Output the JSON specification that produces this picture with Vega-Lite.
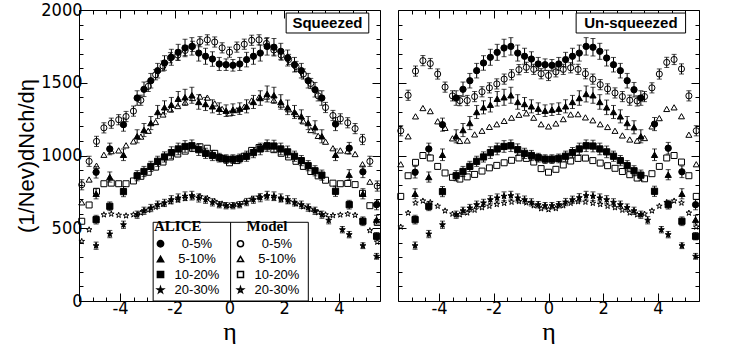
{
"$schema":"https://vega.github.io/schema/vega-lite/v6.json",
"background":"white",
"padding":{"left":15,"top":0,"right":5,"bottom":0},
"config":{"view":{"stroke":"black","strokeWidth":1},
 "axis":{"domain":false,"grid":false,"tickColor":"black","tickWidth":1,"labelColor":"black","titleColor":"black","labelFlush":false,"labelOverlap":false,"labelFont":"Liberation Sans Narrow, DejaVu Sans Condensed, Liberation Sans","labelFontSize":18,"titleFontWeight":"normal"}},
"datasets":{
"alice":[
{"s":"ALICE 0-5%","x":-4.875,"y":885,"e":40},{"s":"ALICE 0-5%","x":-4.375,"y":1045,"e":40},{"s":"ALICE 0-5%","x":-3.875,"y":1212,"e":45},{"s":"ALICE 0-5%","x":-3.375,"y":1395,"e":50},{"s":"ALICE 0-5%","x":-3.125,"y":1455,"e":50},{"s":"ALICE 0-5%","x":-2.875,"y":1514,"e":50},{"s":"ALICE 0-5%","x":-2.625,"y":1583,"e":50},{"s":"ALICE 0-5%","x":-2.375,"y":1636,"e":50},{"s":"ALICE 0-5%","x":-2.125,"y":1675,"e":55},{"s":"ALICE 0-5%","x":-1.875,"y":1709,"e":55},{"s":"ALICE 0-5%","x":-1.625,"y":1739,"e":60},{"s":"ALICE 0-5%","x":-1.375,"y":1750,"e":60},{"s":"ALICE 0-5%","x":-1.125,"y":1704,"e":55},{"s":"ALICE 0-5%","x":-0.875,"y":1682,"e":55},{"s":"ALICE 0-5%","x":-0.625,"y":1663,"e":50},{"s":"ALICE 0-5%","x":-0.375,"y":1629,"e":45},{"s":"ALICE 0-5%","x":-0.125,"y":1624,"e":40},{"s":"ALICE 0-5%","x":0.125,"y":1620,"e":40},{"s":"ALICE 0-5%","x":0.375,"y":1629,"e":45},{"s":"ALICE 0-5%","x":0.625,"y":1659,"e":50},{"s":"ALICE 0-5%","x":0.875,"y":1682,"e":55},{"s":"ALICE 0-5%","x":1.125,"y":1704,"e":55},{"s":"ALICE 0-5%","x":1.375,"y":1750,"e":60},{"s":"ALICE 0-5%","x":1.625,"y":1744,"e":60},{"s":"ALICE 0-5%","x":1.875,"y":1716,"e":55},{"s":"ALICE 0-5%","x":2.125,"y":1670,"e":55},{"s":"ALICE 0-5%","x":2.375,"y":1624,"e":50},{"s":"ALICE 0-5%","x":2.625,"y":1583,"e":50},{"s":"ALICE 0-5%","x":2.875,"y":1514,"e":50},{"s":"ALICE 0-5%","x":3.125,"y":1452,"e":50},{"s":"ALICE 0-5%","x":3.375,"y":1395,"e":50},{"s":"ALICE 0-5%","x":3.875,"y":1216,"e":45},{"s":"ALICE 0-5%","x":4.375,"y":1050,"e":40},{"s":"ALICE 0-5%","x":4.875,"y":888,"e":40},{"s":"ALICE 0-5%","x":5.375,"y":662,"e":35},
{"s":"ALICE 5-10%","x":-4.875,"y":737,"e":35},{"s":"ALICE 5-10%","x":-4.375,"y":852,"e":35},{"s":"ALICE 5-10%","x":-3.875,"y":1005,"e":40},{"s":"ALICE 5-10%","x":-3.375,"y":1132,"e":45},{"s":"ALICE 5-10%","x":-3.125,"y":1175,"e":45},{"s":"ALICE 5-10%","x":-2.875,"y":1223,"e":45},{"s":"ALICE 5-10%","x":-2.625,"y":1299,"e":45},{"s":"ALICE 5-10%","x":-2.375,"y":1331,"e":45},{"s":"ALICE 5-10%","x":-2.125,"y":1349,"e":50},{"s":"ALICE 5-10%","x":-1.875,"y":1390,"e":50},{"s":"ALICE 5-10%","x":-1.625,"y":1400,"e":55},{"s":"ALICE 5-10%","x":-1.375,"y":1414,"e":55},{"s":"ALICE 5-10%","x":-1.125,"y":1368,"e":50},{"s":"ALICE 5-10%","x":-0.875,"y":1354,"e":45},{"s":"ALICE 5-10%","x":-0.625,"y":1338,"e":45},{"s":"ALICE 5-10%","x":-0.375,"y":1322,"e":40},{"s":"ALICE 5-10%","x":-0.125,"y":1308,"e":40},{"s":"ALICE 5-10%","x":0.125,"y":1315,"e":40},{"s":"ALICE 5-10%","x":0.375,"y":1322,"e":40},{"s":"ALICE 5-10%","x":0.625,"y":1338,"e":45},{"s":"ALICE 5-10%","x":0.875,"y":1368,"e":45},{"s":"ALICE 5-10%","x":1.125,"y":1395,"e":50},{"s":"ALICE 5-10%","x":1.375,"y":1423,"e":55},{"s":"ALICE 5-10%","x":1.625,"y":1414,"e":55},{"s":"ALICE 5-10%","x":1.875,"y":1368,"e":50},{"s":"ALICE 5-10%","x":2.125,"y":1331,"e":50},{"s":"ALICE 5-10%","x":2.375,"y":1299,"e":45},{"s":"ALICE 5-10%","x":2.625,"y":1269,"e":45},{"s":"ALICE 5-10%","x":2.875,"y":1223,"e":45},{"s":"ALICE 5-10%","x":3.125,"y":1194,"e":45},{"s":"ALICE 5-10%","x":3.375,"y":1132,"e":45},{"s":"ALICE 5-10%","x":3.875,"y":1005,"e":40},{"s":"ALICE 5-10%","x":4.375,"y":868,"e":35},{"s":"ALICE 5-10%","x":4.875,"y":737,"e":35},{"s":"ALICE 5-10%","x":5.375,"y":559,"e":30},
{"s":"ALICE 10-20%","x":-4.875,"y":559,"e":30},{"s":"ALICE 10-20%","x":-4.375,"y":651,"e":30},{"s":"ALICE 10-20%","x":-3.875,"y":752,"e":35},{"s":"ALICE 10-20%","x":-3.375,"y":861,"e":35},{"s":"ALICE 10-20%","x":-3.125,"y":890,"e":35},{"s":"ALICE 10-20%","x":-2.875,"y":925,"e":35},{"s":"ALICE 10-20%","x":-2.625,"y":960,"e":35},{"s":"ALICE 10-20%","x":-2.375,"y":990,"e":35},{"s":"ALICE 10-20%","x":-2.125,"y":1020,"e":40},{"s":"ALICE 10-20%","x":-1.875,"y":1045,"e":40},{"s":"ALICE 10-20%","x":-1.625,"y":1062,"e":40},{"s":"ALICE 10-20%","x":-1.375,"y":1067,"e":40},{"s":"ALICE 10-20%","x":-1.125,"y":1040,"e":40},{"s":"ALICE 10-20%","x":-0.875,"y":1015,"e":35},{"s":"ALICE 10-20%","x":-0.625,"y":1000,"e":35},{"s":"ALICE 10-20%","x":-0.375,"y":985,"e":30},{"s":"ALICE 10-20%","x":-0.125,"y":975,"e":30},{"s":"ALICE 10-20%","x":0.125,"y":975,"e":30},{"s":"ALICE 10-20%","x":0.375,"y":980,"e":30},{"s":"ALICE 10-20%","x":0.625,"y":995,"e":35},{"s":"ALICE 10-20%","x":0.875,"y":1020,"e":35},{"s":"ALICE 10-20%","x":1.125,"y":1045,"e":40},{"s":"ALICE 10-20%","x":1.375,"y":1067,"e":40},{"s":"ALICE 10-20%","x":1.625,"y":1065,"e":40},{"s":"ALICE 10-20%","x":1.875,"y":1045,"e":40},{"s":"ALICE 10-20%","x":2.125,"y":1025,"e":40},{"s":"ALICE 10-20%","x":2.375,"y":995,"e":35},{"s":"ALICE 10-20%","x":2.625,"y":965,"e":35},{"s":"ALICE 10-20%","x":2.875,"y":930,"e":35},{"s":"ALICE 10-20%","x":3.125,"y":895,"e":35},{"s":"ALICE 10-20%","x":3.375,"y":865,"e":35},{"s":"ALICE 10-20%","x":3.875,"y":754,"e":35},{"s":"ALICE 10-20%","x":4.375,"y":662,"e":30},{"s":"ALICE 10-20%","x":4.875,"y":548,"e":30},{"s":"ALICE 10-20%","x":5.375,"y":445,"e":25},
{"s":"ALICE 20-30%","x":-4.875,"y":380,"e":25},{"s":"ALICE 20-30%","x":-4.375,"y":460,"e":25},{"s":"ALICE 20-30%","x":-3.875,"y":524,"e":25},{"s":"ALICE 20-30%","x":-3.375,"y":593,"e":25},{"s":"ALICE 20-30%","x":-3.125,"y":620,"e":25},{"s":"ALICE 20-30%","x":-2.875,"y":639,"e":25},{"s":"ALICE 20-30%","x":-2.625,"y":662,"e":25},{"s":"ALICE 20-30%","x":-2.375,"y":674,"e":25},{"s":"ALICE 20-30%","x":-2.125,"y":696,"e":28},{"s":"ALICE 20-30%","x":-1.875,"y":708,"e":28},{"s":"ALICE 20-30%","x":-1.625,"y":720,"e":30},{"s":"ALICE 20-30%","x":-1.375,"y":724,"e":30},{"s":"ALICE 20-30%","x":-1.125,"y":708,"e":28},{"s":"ALICE 20-30%","x":-0.875,"y":696,"e":25},{"s":"ALICE 20-30%","x":-0.625,"y":678,"e":25},{"s":"ALICE 20-30%","x":-0.375,"y":662,"e":22},{"s":"ALICE 20-30%","x":-0.125,"y":655,"e":22},{"s":"ALICE 20-30%","x":0.125,"y":655,"e":22},{"s":"ALICE 20-30%","x":0.375,"y":662,"e":22},{"s":"ALICE 20-30%","x":0.625,"y":680,"e":25},{"s":"ALICE 20-30%","x":0.875,"y":696,"e":25},{"s":"ALICE 20-30%","x":1.125,"y":710,"e":28},{"s":"ALICE 20-30%","x":1.375,"y":724,"e":30},{"s":"ALICE 20-30%","x":1.625,"y":720,"e":30},{"s":"ALICE 20-30%","x":1.875,"y":708,"e":28},{"s":"ALICE 20-30%","x":2.125,"y":696,"e":28},{"s":"ALICE 20-30%","x":2.375,"y":678,"e":25},{"s":"ALICE 20-30%","x":2.625,"y":662,"e":25},{"s":"ALICE 20-30%","x":2.875,"y":642,"e":25},{"s":"ALICE 20-30%","x":3.125,"y":620,"e":25},{"s":"ALICE 20-30%","x":3.375,"y":593,"e":25},{"s":"ALICE 20-30%","x":3.625,"y":555,"e":25},{"s":"ALICE 20-30%","x":4.125,"y":490,"e":22},{"s":"ALICE 20-30%","x":4.375,"y":456,"e":22},{"s":"ALICE 20-30%","x":4.875,"y":380,"e":20},{"s":"ALICE 20-30%","x":5.375,"y":307,"e":20}
],
"sq":[
{"s":"Model 0-5%","x":-5.4,"y":799,"e":35},{"s":"Model 0-5%","x":-5.13,"y":960,"e":35},{"s":"Model 0-5%","x":-4.86,"y":1097,"e":35},{"s":"Model 0-5%","x":-4.59,"y":1190,"e":35},{"s":"Model 0-5%","x":-4.32,"y":1222,"e":35},{"s":"Model 0-5%","x":-4.05,"y":1246,"e":35},{"s":"Model 0-5%","x":-3.78,"y":1268,"e":35},{"s":"Model 0-5%","x":-3.51,"y":1305,"e":35},{"s":"Model 0-5%","x":-3.24,"y":1380,"e":35},{"s":"Model 0-5%","x":-2.97,"y":1475,"e":35},{"s":"Model 0-5%","x":-2.7,"y":1555,"e":35},{"s":"Model 0-5%","x":-2.43,"y":1615,"e":35},{"s":"Model 0-5%","x":-2.16,"y":1672,"e":35},{"s":"Model 0-5%","x":-1.89,"y":1690,"e":35},{"s":"Model 0-5%","x":-1.62,"y":1722,"e":35},{"s":"Model 0-5%","x":-1.35,"y":1750,"e":35},{"s":"Model 0-5%","x":-1.08,"y":1782,"e":35},{"s":"Model 0-5%","x":-0.81,"y":1795,"e":35},{"s":"Model 0-5%","x":-0.54,"y":1780,"e":35},{"s":"Model 0-5%","x":-0.27,"y":1740,"e":35},{"s":"Model 0-5%","x":0,"y":1710,"e":35},{"s":"Model 0-5%","x":0.27,"y":1745,"e":35},{"s":"Model 0-5%","x":0.54,"y":1765,"e":35},{"s":"Model 0-5%","x":0.81,"y":1792,"e":35},{"s":"Model 0-5%","x":1.08,"y":1795,"e":35},{"s":"Model 0-5%","x":1.35,"y":1770,"e":35},{"s":"Model 0-5%","x":1.62,"y":1725,"e":35},{"s":"Model 0-5%","x":1.89,"y":1690,"e":35},{"s":"Model 0-5%","x":2.16,"y":1660,"e":35},{"s":"Model 0-5%","x":2.43,"y":1612,"e":35},{"s":"Model 0-5%","x":2.7,"y":1560,"e":35},{"s":"Model 0-5%","x":2.97,"y":1495,"e":35},{"s":"Model 0-5%","x":3.24,"y":1410,"e":35},{"s":"Model 0-5%","x":3.51,"y":1330,"e":35},{"s":"Model 0-5%","x":3.78,"y":1275,"e":35},{"s":"Model 0-5%","x":4.05,"y":1252,"e":35},{"s":"Model 0-5%","x":4.32,"y":1225,"e":35},{"s":"Model 0-5%","x":4.59,"y":1185,"e":35},{"s":"Model 0-5%","x":4.86,"y":1110,"e":35},{"s":"Model 0-5%","x":5.13,"y":960,"e":35},{"s":"Model 0-5%","x":5.4,"y":790,"e":35},
{"s":"Model 5-10%","x":-5.4,"y":678},{"s":"Model 5-10%","x":-5.13,"y":835},{"s":"Model 5-10%","x":-4.86,"y":930},{"s":"Model 5-10%","x":-4.59,"y":1005},{"s":"Model 5-10%","x":-4.32,"y":1030},{"s":"Model 5-10%","x":-4.05,"y":1035},{"s":"Model 5-10%","x":-3.78,"y":1070},{"s":"Model 5-10%","x":-3.51,"y":1097},{"s":"Model 5-10%","x":-3.24,"y":1130},{"s":"Model 5-10%","x":-2.97,"y":1170},{"s":"Model 5-10%","x":-2.7,"y":1230},{"s":"Model 5-10%","x":-2.43,"y":1282},{"s":"Model 5-10%","x":-2.16,"y":1317},{"s":"Model 5-10%","x":-1.89,"y":1340},{"s":"Model 5-10%","x":-1.62,"y":1365},{"s":"Model 5-10%","x":-1.35,"y":1395},{"s":"Model 5-10%","x":-1.08,"y":1405},{"s":"Model 5-10%","x":-0.81,"y":1398},{"s":"Model 5-10%","x":-0.54,"y":1358},{"s":"Model 5-10%","x":-0.27,"y":1320},{"s":"Model 5-10%","x":0,"y":1290},{"s":"Model 5-10%","x":0.27,"y":1312},{"s":"Model 5-10%","x":0.54,"y":1335},{"s":"Model 5-10%","x":0.81,"y":1378},{"s":"Model 5-10%","x":1.08,"y":1400},{"s":"Model 5-10%","x":1.35,"y":1405},{"s":"Model 5-10%","x":1.62,"y":1380},{"s":"Model 5-10%","x":1.89,"y":1350},{"s":"Model 5-10%","x":2.16,"y":1318},{"s":"Model 5-10%","x":2.43,"y":1285},{"s":"Model 5-10%","x":2.7,"y":1235},{"s":"Model 5-10%","x":2.97,"y":1175},{"s":"Model 5-10%","x":3.24,"y":1135},{"s":"Model 5-10%","x":3.51,"y":1095},{"s":"Model 5-10%","x":3.78,"y":1050},{"s":"Model 5-10%","x":4.05,"y":1035},{"s":"Model 5-10%","x":4.32,"y":1030},{"s":"Model 5-10%","x":4.59,"y":1010},{"s":"Model 5-10%","x":4.86,"y":940},{"s":"Model 5-10%","x":5.13,"y":820},{"s":"Model 5-10%","x":5.4,"y":680},
{"s":"Model 10-20%","x":-5.4,"y":548},{"s":"Model 10-20%","x":-5.13,"y":660},{"s":"Model 10-20%","x":-4.86,"y":754},{"s":"Model 10-20%","x":-4.59,"y":806},{"s":"Model 10-20%","x":-4.32,"y":810},{"s":"Model 10-20%","x":-4.05,"y":806},{"s":"Model 10-20%","x":-3.78,"y":806},{"s":"Model 10-20%","x":-3.51,"y":825},{"s":"Model 10-20%","x":-3.24,"y":857},{"s":"Model 10-20%","x":-2.97,"y":885},{"s":"Model 10-20%","x":-2.7,"y":920},{"s":"Model 10-20%","x":-2.43,"y":955},{"s":"Model 10-20%","x":-2.16,"y":990},{"s":"Model 10-20%","x":-1.89,"y":1010},{"s":"Model 10-20%","x":-1.62,"y":1030},{"s":"Model 10-20%","x":-1.35,"y":1050},{"s":"Model 10-20%","x":-1.08,"y":1060},{"s":"Model 10-20%","x":-0.81,"y":1050},{"s":"Model 10-20%","x":-0.54,"y":1015},{"s":"Model 10-20%","x":-0.27,"y":980},{"s":"Model 10-20%","x":0,"y":950},{"s":"Model 10-20%","x":0.27,"y":965},{"s":"Model 10-20%","x":0.54,"y":995},{"s":"Model 10-20%","x":0.81,"y":1035},{"s":"Model 10-20%","x":1.08,"y":1055},{"s":"Model 10-20%","x":1.35,"y":1060},{"s":"Model 10-20%","x":1.62,"y":1040},{"s":"Model 10-20%","x":1.89,"y":1015},{"s":"Model 10-20%","x":2.16,"y":990},{"s":"Model 10-20%","x":2.43,"y":960},{"s":"Model 10-20%","x":2.7,"y":925},{"s":"Model 10-20%","x":2.97,"y":890},{"s":"Model 10-20%","x":3.24,"y":860},{"s":"Model 10-20%","x":3.51,"y":830},{"s":"Model 10-20%","x":3.78,"y":810},{"s":"Model 10-20%","x":4.05,"y":806},{"s":"Model 10-20%","x":4.32,"y":808},{"s":"Model 10-20%","x":4.59,"y":800},{"s":"Model 10-20%","x":4.86,"y":740},{"s":"Model 10-20%","x":5.13,"y":655},{"s":"Model 10-20%","x":5.4,"y":540},
{"s":"Model 20-30%","x":-5.4,"y":410},{"s":"Model 20-30%","x":-5.13,"y":490},{"s":"Model 20-30%","x":-4.86,"y":555},{"s":"Model 20-30%","x":-4.59,"y":593},{"s":"Model 20-30%","x":-4.32,"y":598},{"s":"Model 20-30%","x":-4.05,"y":590},{"s":"Model 20-30%","x":-3.78,"y":586},{"s":"Model 20-30%","x":-3.51,"y":593},{"s":"Model 20-30%","x":-3.24,"y":605},{"s":"Model 20-30%","x":-2.97,"y":625},{"s":"Model 20-30%","x":-2.7,"y":645},{"s":"Model 20-30%","x":-2.43,"y":665},{"s":"Model 20-30%","x":-2.16,"y":682},{"s":"Model 20-30%","x":-1.89,"y":695},{"s":"Model 20-30%","x":-1.62,"y":705},{"s":"Model 20-30%","x":-1.35,"y":715},{"s":"Model 20-30%","x":-1.08,"y":718},{"s":"Model 20-30%","x":-0.81,"y":705},{"s":"Model 20-30%","x":-0.54,"y":685},{"s":"Model 20-30%","x":-0.27,"y":668},{"s":"Model 20-30%","x":0,"y":655},{"s":"Model 20-30%","x":0.27,"y":662},{"s":"Model 20-30%","x":0.54,"y":678},{"s":"Model 20-30%","x":0.81,"y":700},{"s":"Model 20-30%","x":1.08,"y":715},{"s":"Model 20-30%","x":1.35,"y":718},{"s":"Model 20-30%","x":1.62,"y":708},{"s":"Model 20-30%","x":1.89,"y":698},{"s":"Model 20-30%","x":2.16,"y":685},{"s":"Model 20-30%","x":2.43,"y":668},{"s":"Model 20-30%","x":2.7,"y":648},{"s":"Model 20-30%","x":2.97,"y":628},{"s":"Model 20-30%","x":3.24,"y":608},{"s":"Model 20-30%","x":3.51,"y":593},{"s":"Model 20-30%","x":3.78,"y":588},{"s":"Model 20-30%","x":4.05,"y":592},{"s":"Model 20-30%","x":4.32,"y":598},{"s":"Model 20-30%","x":4.59,"y":590},{"s":"Model 20-30%","x":4.86,"y":555},{"s":"Model 20-30%","x":5.13,"y":484},{"s":"Model 20-30%","x":5.4,"y":405}
],
"un":[
{"s":"Model 0-5%","x":-5.4,"y":1170,"e":35},{"s":"Model 0-5%","x":-5.13,"y":1414,"e":35},{"s":"Model 0-5%","x":-4.86,"y":1580,"e":35},{"s":"Model 0-5%","x":-4.59,"y":1652,"e":35},{"s":"Model 0-5%","x":-4.32,"y":1632,"e":35},{"s":"Model 0-5%","x":-4.05,"y":1560,"e":35},{"s":"Model 0-5%","x":-3.78,"y":1470,"e":35},{"s":"Model 0-5%","x":-3.51,"y":1410,"e":35},{"s":"Model 0-5%","x":-3.24,"y":1377,"e":35},{"s":"Model 0-5%","x":-2.97,"y":1378,"e":35},{"s":"Model 0-5%","x":-2.7,"y":1405,"e":35},{"s":"Model 0-5%","x":-2.43,"y":1438,"e":35},{"s":"Model 0-5%","x":-2.16,"y":1465,"e":35},{"s":"Model 0-5%","x":-1.89,"y":1492,"e":35},{"s":"Model 0-5%","x":-1.62,"y":1525,"e":35},{"s":"Model 0-5%","x":-1.35,"y":1555,"e":35},{"s":"Model 0-5%","x":-1.08,"y":1590,"e":35},{"s":"Model 0-5%","x":-0.81,"y":1606,"e":35},{"s":"Model 0-5%","x":-0.54,"y":1592,"e":35},{"s":"Model 0-5%","x":-0.27,"y":1562,"e":35},{"s":"Model 0-5%","x":0,"y":1550,"e":35},{"s":"Model 0-5%","x":0.27,"y":1575,"e":35},{"s":"Model 0-5%","x":0.54,"y":1592,"e":35},{"s":"Model 0-5%","x":0.81,"y":1603,"e":35},{"s":"Model 0-5%","x":1.08,"y":1592,"e":35},{"s":"Model 0-5%","x":1.35,"y":1562,"e":35},{"s":"Model 0-5%","x":1.62,"y":1525,"e":35},{"s":"Model 0-5%","x":1.89,"y":1487,"e":35},{"s":"Model 0-5%","x":2.16,"y":1458,"e":35},{"s":"Model 0-5%","x":2.43,"y":1430,"e":35},{"s":"Model 0-5%","x":2.7,"y":1405,"e":35},{"s":"Model 0-5%","x":2.97,"y":1380,"e":35},{"s":"Model 0-5%","x":3.24,"y":1375,"e":35},{"s":"Model 0-5%","x":3.51,"y":1405,"e":35},{"s":"Model 0-5%","x":3.78,"y":1465,"e":35},{"s":"Model 0-5%","x":4.05,"y":1560,"e":35},{"s":"Model 0-5%","x":4.32,"y":1640,"e":35},{"s":"Model 0-5%","x":4.59,"y":1660,"e":35},{"s":"Model 0-5%","x":4.86,"y":1595,"e":35},{"s":"Model 0-5%","x":5.13,"y":1410,"e":35},{"s":"Model 0-5%","x":5.4,"y":1170,"e":35},
{"s":"Model 5-10%","x":-5.4,"y":940},{"s":"Model 5-10%","x":-5.13,"y":1132},{"s":"Model 5-10%","x":-4.86,"y":1269},{"s":"Model 5-10%","x":-4.59,"y":1326},{"s":"Model 5-10%","x":-4.32,"y":1305},{"s":"Model 5-10%","x":-4.05,"y":1235},{"s":"Model 5-10%","x":-3.78,"y":1190},{"s":"Model 5-10%","x":-3.51,"y":1118},{"s":"Model 5-10%","x":-3.24,"y":1100},{"s":"Model 5-10%","x":-2.97,"y":1103},{"s":"Model 5-10%","x":-2.7,"y":1145},{"s":"Model 5-10%","x":-2.43,"y":1170},{"s":"Model 5-10%","x":-2.16,"y":1197},{"s":"Model 5-10%","x":-1.89,"y":1215},{"s":"Model 5-10%","x":-1.62,"y":1238},{"s":"Model 5-10%","x":-1.35,"y":1260},{"s":"Model 5-10%","x":-1.08,"y":1280},{"s":"Model 5-10%","x":-0.81,"y":1290},{"s":"Model 5-10%","x":-0.54,"y":1260},{"s":"Model 5-10%","x":-0.27,"y":1215},{"s":"Model 5-10%","x":0,"y":1200},{"s":"Model 5-10%","x":0.27,"y":1220},{"s":"Model 5-10%","x":0.54,"y":1250},{"s":"Model 5-10%","x":0.81,"y":1282},{"s":"Model 5-10%","x":1.08,"y":1284},{"s":"Model 5-10%","x":1.35,"y":1262},{"s":"Model 5-10%","x":1.62,"y":1242},{"s":"Model 5-10%","x":1.89,"y":1215},{"s":"Model 5-10%","x":2.16,"y":1196},{"s":"Model 5-10%","x":2.43,"y":1170},{"s":"Model 5-10%","x":2.7,"y":1138},{"s":"Model 5-10%","x":2.97,"y":1110},{"s":"Model 5-10%","x":3.24,"y":1102},{"s":"Model 5-10%","x":3.51,"y":1120},{"s":"Model 5-10%","x":3.78,"y":1200},{"s":"Model 5-10%","x":4.05,"y":1257},{"s":"Model 5-10%","x":4.32,"y":1320},{"s":"Model 5-10%","x":4.59,"y":1331},{"s":"Model 5-10%","x":4.86,"y":1270},{"s":"Model 5-10%","x":5.13,"y":1143},{"s":"Model 5-10%","x":5.4,"y":940},
{"s":"Model 10-20%","x":-5.4,"y":719},{"s":"Model 10-20%","x":-5.13,"y":861},{"s":"Model 10-20%","x":-4.86,"y":953},{"s":"Model 10-20%","x":-4.59,"y":1000},{"s":"Model 10-20%","x":-4.32,"y":983},{"s":"Model 10-20%","x":-4.05,"y":925},{"s":"Model 10-20%","x":-3.78,"y":880},{"s":"Model 10-20%","x":-3.51,"y":850},{"s":"Model 10-20%","x":-3.24,"y":838},{"s":"Model 10-20%","x":-2.97,"y":853},{"s":"Model 10-20%","x":-2.7,"y":870},{"s":"Model 10-20%","x":-2.43,"y":893},{"s":"Model 10-20%","x":-2.16,"y":915},{"s":"Model 10-20%","x":-1.89,"y":932},{"s":"Model 10-20%","x":-1.62,"y":950},{"s":"Model 10-20%","x":-1.35,"y":967},{"s":"Model 10-20%","x":-1.08,"y":983},{"s":"Model 10-20%","x":-0.81,"y":980},{"s":"Model 10-20%","x":-0.54,"y":955},{"s":"Model 10-20%","x":-0.27,"y":910},{"s":"Model 10-20%","x":0,"y":885},{"s":"Model 10-20%","x":0.27,"y":905},{"s":"Model 10-20%","x":0.54,"y":935},{"s":"Model 10-20%","x":0.81,"y":962},{"s":"Model 10-20%","x":1.08,"y":980},{"s":"Model 10-20%","x":1.35,"y":982},{"s":"Model 10-20%","x":1.62,"y":965},{"s":"Model 10-20%","x":1.89,"y":948},{"s":"Model 10-20%","x":2.16,"y":930},{"s":"Model 10-20%","x":2.43,"y":912},{"s":"Model 10-20%","x":2.7,"y":890},{"s":"Model 10-20%","x":2.97,"y":868},{"s":"Model 10-20%","x":3.24,"y":845},{"s":"Model 10-20%","x":3.51,"y":840},{"s":"Model 10-20%","x":3.78,"y":875},{"s":"Model 10-20%","x":4.05,"y":925},{"s":"Model 10-20%","x":4.32,"y":983},{"s":"Model 10-20%","x":4.59,"y":1000},{"s":"Model 10-20%","x":4.86,"y":955},{"s":"Model 10-20%","x":5.13,"y":861},{"s":"Model 10-20%","x":5.4,"y":719},
{"s":"Model 20-30%","x":-5.4,"y":509},{"s":"Model 20-30%","x":-5.13,"y":605},{"s":"Model 20-30%","x":-4.86,"y":674},{"s":"Model 20-30%","x":-4.59,"y":688},{"s":"Model 20-30%","x":-4.32,"y":678},{"s":"Model 20-30%","x":-4.05,"y":652},{"s":"Model 20-30%","x":-3.78,"y":620},{"s":"Model 20-30%","x":-3.51,"y":598},{"s":"Model 20-30%","x":-3.24,"y":593},{"s":"Model 20-30%","x":-2.97,"y":606},{"s":"Model 20-30%","x":-2.7,"y":625},{"s":"Model 20-30%","x":-2.43,"y":642},{"s":"Model 20-30%","x":-2.16,"y":652},{"s":"Model 20-30%","x":-1.89,"y":664},{"s":"Model 20-30%","x":-1.62,"y":672},{"s":"Model 20-30%","x":-1.35,"y":680},{"s":"Model 20-30%","x":-1.08,"y":684},{"s":"Model 20-30%","x":-0.81,"y":675},{"s":"Model 20-30%","x":-0.54,"y":655},{"s":"Model 20-30%","x":-0.27,"y":635},{"s":"Model 20-30%","x":0,"y":628},{"s":"Model 20-30%","x":0.27,"y":636},{"s":"Model 20-30%","x":0.54,"y":655},{"s":"Model 20-30%","x":0.81,"y":672},{"s":"Model 20-30%","x":1.08,"y":683},{"s":"Model 20-30%","x":1.35,"y":680},{"s":"Model 20-30%","x":1.62,"y":672},{"s":"Model 20-30%","x":1.89,"y":664},{"s":"Model 20-30%","x":2.16,"y":652},{"s":"Model 20-30%","x":2.43,"y":642},{"s":"Model 20-30%","x":2.7,"y":625},{"s":"Model 20-30%","x":2.97,"y":606},{"s":"Model 20-30%","x":3.24,"y":593},{"s":"Model 20-30%","x":3.51,"y":598},{"s":"Model 20-30%","x":3.78,"y":620},{"s":"Model 20-30%","x":4.05,"y":652},{"s":"Model 20-30%","x":4.32,"y":678},{"s":"Model 20-30%","x":4.59,"y":688},{"s":"Model 20-30%","x":4.86,"y":674},{"s":"Model 20-30%","x":5.13,"y":605},{"s":"Model 20-30%","x":5.4,"y":509}
]
},
"spacing":18,
"bounds":"flush",
"resolve":{"scale":{"shape":"independent","fill":"independent","size":"independent"}},
"hconcat":[
{
"width":301,"height":291,
"resolve":{"axis":{"x":"independent","y":"independent"}},
"layer":[
{"data":{"name":"sq"},"mark":{"type":"point","opacity":0},"encoding":{
 "x":{"field":"x","type":"quantitative","scale":{"domain":[-5.5,5.5],"nice":false,"zero":false},"axis":{"orient":"bottom","values":[-4,-2,0,2,4],"tickSize":-8,"labelPadding":6,"labelExpr":"'' + datum.value","title":"η","titleFont":"Liberation Serif","titleFontSize":26,"titlePadding":1}},
 "y":{"field":"y","type":"quantitative","scale":{"domain":[0,2000],"nice":false,"zero":false},"axis":{"orient":"left","values":[0,500,1000,1500,2000],"tickSize":-8,"labelPadding":5,"labelExpr":"'' + datum.value","title":"(1/Nev)dNch/dη","titleFont":"Liberation Sans","titleFontSize":22,"titlePadding":2}}}},
{"data":{"name":"sq"},"mark":{"type":"point","opacity":0},"encoding":{
 "x":{"field":"x","type":"quantitative","scale":{"domain":[-5.5,5.5],"nice":false,"zero":false},"axis":{"orient":"bottom","values":[-5,-4.5,-3.5,-3,-2.5,-1.5,-1,-0.5,0.5,1,1.5,2.5,3,3.5,4.5,5],"tickSize":-4,"labels":false,"title":null}},
 "y":{"field":"y","type":"quantitative","scale":{"domain":[0,2000],"nice":false,"zero":false},"axis":{"orient":"left","values":[100,200,300,400,600,700,800,900,1100,1200,1300,1400,1600,1700,1800,1900],"tickSize":-4,"labels":false,"title":null}}}},
{"data":{"name":"sq"},"mark":{"type":"point","opacity":0},"encoding":{
 "x":{"field":"x","type":"quantitative","scale":{"domain":[-5.5,5.5],"nice":false,"zero":false},"axis":{"orient":"top","values":[-4,-2,0,2,4],"tickSize":-8,"labels":false,"title":null}},
 "y":{"field":"y","type":"quantitative","scale":{"domain":[0,2000],"nice":false,"zero":false},"axis":{"orient":"right","values":[0,500,1000,1500,2000],"tickSize":-8,"labels":false,"title":null}}}},
{"data":{"name":"sq"},"mark":{"type":"point","opacity":0},"encoding":{
 "x":{"field":"x","type":"quantitative","scale":{"domain":[-5.5,5.5],"nice":false,"zero":false},"axis":{"orient":"top","values":[-5,-4.5,-3.5,-3,-2.5,-1.5,-1,-0.5,0.5,1,1.5,2.5,3,3.5,4.5,5],"tickSize":-4,"labels":false,"title":null}},
 "y":{"field":"y","type":"quantitative","scale":{"domain":[0,2000],"nice":false,"zero":false},"axis":{"orient":"right","values":[100,200,300,400,600,700,800,900,1100,1200,1300,1400,1600,1700,1800,1900],"tickSize":-4,"labels":false,"title":null}}}},
{"data":{"name":"sq"},"transform":[{"filter":"datum.e > 0"}],"mark":{"type":"errorbar","ticks":true,"color":"black","thickness":1},"encoding":{
 "x":{"field":"x","type":"quantitative","scale":{"domain":[-5.5,5.5],"nice":false,"zero":false},"axis":null},
 "y":{"field":"y","type":"quantitative","scale":{"domain":[0,2000],"nice":false,"zero":false},"axis":null},
 "yError":{"field":"e"}}},
{"data":{"name":"sq"},"mark":{"type":"point","filled":true,"stroke":"black","strokeWidth":1,"opacity":1},"encoding":{
 "x":{"field":"x","type":"quantitative","scale":{"domain":[-5.5,5.5],"nice":false,"zero":false},"axis":null},
 "y":{"field":"y","type":"quantitative","scale":{"domain":[0,2000],"nice":false,"zero":false},"axis":null},
 "shape":{"field":"s","type":"nominal","scale":{"domain":["ALICE 0-5%","ALICE 5-10%","ALICE 10-20%","ALICE 20-30%","Model 0-5%","Model 5-10%","Model 10-20%","Model 20-30%"],"range":["circle","triangle-up","square","M0,-1L0.225,-0.309L0.951,-0.309L0.363,0.118L0.588,0.809L0,0.382L-0.588,0.809L-0.363,0.118L-0.951,-0.309L-0.225,-0.309Z","circle","triangle-up","square","M0,-1L0.225,-0.309L0.951,-0.309L0.363,0.118L0.588,0.809L0,0.382L-0.588,0.809L-0.363,0.118L-0.951,-0.309L-0.225,-0.309Z"]},
  "legend":{"orient":"none","legendX":75,"legendY":209,"columns":2,"title":"\u00a0\u00a0\u00a0\u00a0ALICE\u00a0\u00a0\u00a0\u00a0\u00a0\u00a0\u00a0\u00a0\u00a0\u00a0\u00a0\u00a0Model","titleFont":"Liberation Serif","titleFontSize":15,"titleFontWeight":"bold","titleColor":"black","titlePadding":3,"labelFont":"Liberation Sans","labelFontSize":13,"labelColor":"black","labelAlign":"center","labelOffset":30,"labelExpr":"split(datum.label,' ')[1]","columnPadding":14,"rowPadding":1.5,"padding":0,"labelLimit":0,"encode":{"symbols":{"update":{"stroke":{"value":"black"},"strokeWidth":{"value":1}}}}}},
 "fill":{"field":"s","type":"nominal","scale":{"domain":["ALICE 0-5%","ALICE 5-10%","ALICE 10-20%","ALICE 20-30%","Model 0-5%","Model 5-10%","Model 10-20%","Model 20-30%"],"range":["black","black","black","black","transparent","transparent","transparent","transparent"]},
  "legend":{"orient":"none","legendX":75,"legendY":209,"columns":2,"title":"\u00a0\u00a0\u00a0\u00a0ALICE\u00a0\u00a0\u00a0\u00a0\u00a0\u00a0\u00a0\u00a0\u00a0\u00a0\u00a0\u00a0Model","titleFont":"Liberation Serif","titleFontSize":15,"titleFontWeight":"bold","titleColor":"black","titlePadding":3,"labelFont":"Liberation Sans","labelFontSize":13,"labelColor":"black","labelAlign":"center","labelOffset":30,"labelExpr":"split(datum.label,' ')[1]","columnPadding":14,"rowPadding":1.5,"padding":0,"labelLimit":0,"encode":{"symbols":{"update":{"stroke":{"value":"black"},"strokeWidth":{"value":1}}}}}},
 "size":{"field":"s","type":"nominal","scale":{"domain":["ALICE 0-5%","ALICE 5-10%","ALICE 10-20%","ALICE 20-30%","Model 0-5%","Model 5-10%","Model 10-20%","Model 20-30%"],"range":[40,35,40,25,55,45,50,80]},
  "legend":{"orient":"none","legendX":75,"legendY":209,"columns":2,"title":"\u00a0\u00a0\u00a0\u00a0ALICE\u00a0\u00a0\u00a0\u00a0\u00a0\u00a0\u00a0\u00a0\u00a0\u00a0\u00a0\u00a0Model","titleFont":"Liberation Serif","titleFontSize":15,"titleFontWeight":"bold","titleColor":"black","titlePadding":3,"labelFont":"Liberation Sans","labelFontSize":13,"labelColor":"black","labelAlign":"center","labelOffset":30,"labelExpr":"split(datum.label,' ')[1]","columnPadding":14,"rowPadding":1.5,"padding":0,"labelLimit":0,"encode":{"symbols":{"update":{"stroke":{"value":"black"},"strokeWidth":{"value":1}}}}}}}},
{"data":{"name":"alice"},"mark":{"type":"errorbar","ticks":true,"color":"black","thickness":1},"encoding":{
 "x":{"field":"x","type":"quantitative","scale":{"domain":[-5.5,5.5],"nice":false,"zero":false},"axis":null},
 "y":{"field":"y","type":"quantitative","scale":{"domain":[0,2000],"nice":false,"zero":false},"axis":null},
 "yError":{"field":"e"}}},
{"data":{"name":"alice"},"mark":{"type":"point","filled":true,"stroke":"black","strokeWidth":1,"opacity":1},"encoding":{
 "x":{"field":"x","type":"quantitative","scale":{"domain":[-5.5,5.5],"nice":false,"zero":false},"axis":null},
 "y":{"field":"y","type":"quantitative","scale":{"domain":[0,2000],"nice":false,"zero":false},"axis":null},
 "shape":{"field":"s","type":"nominal","scale":{"domain":["ALICE 0-5%","ALICE 5-10%","ALICE 10-20%","ALICE 20-30%","Model 0-5%","Model 5-10%","Model 10-20%","Model 20-30%"],"range":["circle","triangle-up","square","M0,-1L0.225,-0.309L0.951,-0.309L0.363,0.118L0.588,0.809L0,0.382L-0.588,0.809L-0.363,0.118L-0.951,-0.309L-0.225,-0.309Z","circle","triangle-up","square","M0,-1L0.225,-0.309L0.951,-0.309L0.363,0.118L0.588,0.809L0,0.382L-0.588,0.809L-0.363,0.118L-0.951,-0.309L-0.225,-0.309Z"]},
  "legend":{"orient":"none","legendX":75,"legendY":209,"columns":2,"title":"\u00a0\u00a0\u00a0\u00a0ALICE\u00a0\u00a0\u00a0\u00a0\u00a0\u00a0\u00a0\u00a0\u00a0\u00a0\u00a0\u00a0Model","titleFont":"Liberation Serif","titleFontSize":15,"titleFontWeight":"bold","titleColor":"black","titlePadding":3,"labelFont":"Liberation Sans","labelFontSize":13,"labelColor":"black","labelAlign":"center","labelOffset":30,"labelExpr":"split(datum.label,' ')[1]","columnPadding":14,"rowPadding":1.5,"padding":0,"labelLimit":0,"encode":{"symbols":{"update":{"stroke":{"value":"black"},"strokeWidth":{"value":1}}}}}},
 "fill":{"field":"s","type":"nominal","scale":{"domain":["ALICE 0-5%","ALICE 5-10%","ALICE 10-20%","ALICE 20-30%","Model 0-5%","Model 5-10%","Model 10-20%","Model 20-30%"],"range":["black","black","black","black","transparent","transparent","transparent","transparent"]},
  "legend":{"orient":"none","legendX":75,"legendY":209,"columns":2,"title":"\u00a0\u00a0\u00a0\u00a0ALICE\u00a0\u00a0\u00a0\u00a0\u00a0\u00a0\u00a0\u00a0\u00a0\u00a0\u00a0\u00a0Model","titleFont":"Liberation Serif","titleFontSize":15,"titleFontWeight":"bold","titleColor":"black","titlePadding":3,"labelFont":"Liberation Sans","labelFontSize":13,"labelColor":"black","labelAlign":"center","labelOffset":30,"labelExpr":"split(datum.label,' ')[1]","columnPadding":14,"rowPadding":1.5,"padding":0,"labelLimit":0,"encode":{"symbols":{"update":{"stroke":{"value":"black"},"strokeWidth":{"value":1}}}}}},
 "size":{"field":"s","type":"nominal","scale":{"domain":["ALICE 0-5%","ALICE 5-10%","ALICE 10-20%","ALICE 20-30%","Model 0-5%","Model 5-10%","Model 10-20%","Model 20-30%"],"range":[40,35,40,25,55,45,50,80]},
  "legend":{"orient":"none","legendX":75,"legendY":209,"columns":2,"title":"\u00a0\u00a0\u00a0\u00a0ALICE\u00a0\u00a0\u00a0\u00a0\u00a0\u00a0\u00a0\u00a0\u00a0\u00a0\u00a0\u00a0Model","titleFont":"Liberation Serif","titleFontSize":15,"titleFontWeight":"bold","titleColor":"black","titlePadding":3,"labelFont":"Liberation Sans","labelFontSize":13,"labelColor":"black","labelAlign":"center","labelOffset":30,"labelExpr":"split(datum.label,' ')[1]","columnPadding":14,"rowPadding":1.5,"padding":0,"labelLimit":0,"encode":{"symbols":{"update":{"stroke":{"value":"black"},"strokeWidth":{"value":1}}}}}}}},
{"data":{"values":[{"t":"Squeezed"}]},"mark":{"type":"rect","fill":"white","stroke":"black","strokeWidth":1},"encoding":{
 "x":{"datum":2.07,"type":"quantitative","scale":{"domain":[-5.5,5.5],"nice":false,"zero":false},"axis":null},"x2":{"datum":5.09},
 "y":{"datum":1842,"type":"quantitative","scale":{"domain":[0,2000],"nice":false,"zero":false},"axis":null},"y2":{"datum":1979}}},
{"data":{"values":[{"t":"Squeezed"}]},"mark":{"type":"text","font":"Liberation Sans","fontWeight":"bold","fontSize":15,"align":"center","baseline":"middle","color":"black"},"encoding":{
 "x":{"datum":3.58,"type":"quantitative","scale":{"domain":[-5.5,5.5],"nice":false,"zero":false},"axis":null},
 "y":{"datum":1911,"type":"quantitative","scale":{"domain":[0,2000],"nice":false,"zero":false},"axis":null},
 "text":{"field":"t"}}},
{"data":{"values":[{"t":"box"}]},"mark":{"type":"rect","fill":"white","stroke":"black","strokeWidth":1},"encoding":{
 "x":{"datum":-2.79,"type":"quantitative","scale":{"domain":[-5.5,5.5],"nice":false,"zero":false},"axis":null},"x2":{"datum":2.88},
 "y":{"datum":0,"type":"quantitative","scale":{"domain":[0,2000],"nice":false,"zero":false},"axis":null},"y2":{"datum":541}}},
{"data":{"values":[{"t":"divider"}]},"mark":{"type":"rule","color":"black","strokeWidth":1},"encoding":{
 "x":{"datum":0.04,"type":"quantitative","scale":{"domain":[-5.5,5.5],"nice":false,"zero":false},"axis":null},
 "y":{"datum":0,"type":"quantitative","scale":{"domain":[0,2000],"nice":false,"zero":false},"axis":null},"y2":{"datum":541}}}
]
},
{
"width":301,"height":291,
"resolve":{"axis":{"x":"independent","y":"independent"}},
"layer":[
{"data":{"name":"un"},"mark":{"type":"point","opacity":0},"encoding":{
 "x":{"field":"x","type":"quantitative","scale":{"domain":[-5.5,5.5],"nice":false,"zero":false},"axis":{"orient":"bottom","values":[-4,-2,0,2,4],"tickSize":-8,"labelPadding":6,"labelExpr":"'' + datum.value","title":"η","titleFont":"Liberation Serif","titleFontSize":26,"titlePadding":1}},
 "y":{"field":"y","type":"quantitative","scale":{"domain":[0,2000],"nice":false,"zero":false},"axis":{"orient":"left","values":[0,500,1000,1500,2000],"tickSize":-8,"labels":false,"title":null}}}},
{"data":{"name":"un"},"mark":{"type":"point","opacity":0},"encoding":{
 "x":{"field":"x","type":"quantitative","scale":{"domain":[-5.5,5.5],"nice":false,"zero":false},"axis":{"orient":"bottom","values":[-5,-4.5,-3.5,-3,-2.5,-1.5,-1,-0.5,0.5,1,1.5,2.5,3,3.5,4.5,5],"tickSize":-4,"labels":false,"title":null}},
 "y":{"field":"y","type":"quantitative","scale":{"domain":[0,2000],"nice":false,"zero":false},"axis":{"orient":"left","values":[100,200,300,400,600,700,800,900,1100,1200,1300,1400,1600,1700,1800,1900],"tickSize":-4,"labels":false,"title":null}}}},
{"data":{"name":"un"},"mark":{"type":"point","opacity":0},"encoding":{
 "x":{"field":"x","type":"quantitative","scale":{"domain":[-5.5,5.5],"nice":false,"zero":false},"axis":{"orient":"top","values":[-4,-2,0,2,4],"tickSize":-8,"labels":false,"title":null}},
 "y":{"field":"y","type":"quantitative","scale":{"domain":[0,2000],"nice":false,"zero":false},"axis":{"orient":"right","values":[0,500,1000,1500,2000],"tickSize":-8,"labels":false,"title":null}}}},
{"data":{"name":"un"},"mark":{"type":"point","opacity":0},"encoding":{
 "x":{"field":"x","type":"quantitative","scale":{"domain":[-5.5,5.5],"nice":false,"zero":false},"axis":{"orient":"top","values":[-5,-4.5,-3.5,-3,-2.5,-1.5,-1,-0.5,0.5,1,1.5,2.5,3,3.5,4.5,5],"tickSize":-4,"labels":false,"title":null}},
 "y":{"field":"y","type":"quantitative","scale":{"domain":[0,2000],"nice":false,"zero":false},"axis":{"orient":"right","values":[100,200,300,400,600,700,800,900,1100,1200,1300,1400,1600,1700,1800,1900],"tickSize":-4,"labels":false,"title":null}}}},
{"data":{"name":"un"},"transform":[{"filter":"datum.e > 0"}],"mark":{"type":"errorbar","ticks":true,"color":"black","thickness":1},"encoding":{
 "x":{"field":"x","type":"quantitative","scale":{"domain":[-5.5,5.5],"nice":false,"zero":false},"axis":null},
 "y":{"field":"y","type":"quantitative","scale":{"domain":[0,2000],"nice":false,"zero":false},"axis":null},
 "yError":{"field":"e"}}},
{"data":{"name":"un"},"mark":{"type":"point","filled":true,"stroke":"black","strokeWidth":1,"opacity":1},"encoding":{
 "x":{"field":"x","type":"quantitative","scale":{"domain":[-5.5,5.5],"nice":false,"zero":false},"axis":null},
 "y":{"field":"y","type":"quantitative","scale":{"domain":[0,2000],"nice":false,"zero":false},"axis":null},
 "shape":{"field":"s","type":"nominal","scale":{"domain":["ALICE 0-5%","ALICE 5-10%","ALICE 10-20%","ALICE 20-30%","Model 0-5%","Model 5-10%","Model 10-20%","Model 20-30%"],"range":["circle","triangle-up","square","M0,-1L0.225,-0.309L0.951,-0.309L0.363,0.118L0.588,0.809L0,0.382L-0.588,0.809L-0.363,0.118L-0.951,-0.309L-0.225,-0.309Z","circle","triangle-up","square","M0,-1L0.225,-0.309L0.951,-0.309L0.363,0.118L0.588,0.809L0,0.382L-0.588,0.809L-0.363,0.118L-0.951,-0.309L-0.225,-0.309Z"]},"legend":null},
 "fill":{"field":"s","type":"nominal","scale":{"domain":["ALICE 0-5%","ALICE 5-10%","ALICE 10-20%","ALICE 20-30%","Model 0-5%","Model 5-10%","Model 10-20%","Model 20-30%"],"range":["black","black","black","black","transparent","transparent","transparent","transparent"]},"legend":null},
 "size":{"field":"s","type":"nominal","scale":{"domain":["ALICE 0-5%","ALICE 5-10%","ALICE 10-20%","ALICE 20-30%","Model 0-5%","Model 5-10%","Model 10-20%","Model 20-30%"],"range":[40,35,40,25,55,45,50,80]},"legend":null}}},
{"data":{"name":"alice"},"mark":{"type":"errorbar","ticks":true,"color":"black","thickness":1},"encoding":{
 "x":{"field":"x","type":"quantitative","scale":{"domain":[-5.5,5.5],"nice":false,"zero":false},"axis":null},
 "y":{"field":"y","type":"quantitative","scale":{"domain":[0,2000],"nice":false,"zero":false},"axis":null},
 "yError":{"field":"e"}}},
{"data":{"name":"alice"},"mark":{"type":"point","filled":true,"stroke":"black","strokeWidth":1,"opacity":1},"encoding":{
 "x":{"field":"x","type":"quantitative","scale":{"domain":[-5.5,5.5],"nice":false,"zero":false},"axis":null},
 "y":{"field":"y","type":"quantitative","scale":{"domain":[0,2000],"nice":false,"zero":false},"axis":null},
 "shape":{"field":"s","type":"nominal","scale":{"domain":["ALICE 0-5%","ALICE 5-10%","ALICE 10-20%","ALICE 20-30%","Model 0-5%","Model 5-10%","Model 10-20%","Model 20-30%"],"range":["circle","triangle-up","square","M0,-1L0.225,-0.309L0.951,-0.309L0.363,0.118L0.588,0.809L0,0.382L-0.588,0.809L-0.363,0.118L-0.951,-0.309L-0.225,-0.309Z","circle","triangle-up","square","M0,-1L0.225,-0.309L0.951,-0.309L0.363,0.118L0.588,0.809L0,0.382L-0.588,0.809L-0.363,0.118L-0.951,-0.309L-0.225,-0.309Z"]},"legend":null},
 "fill":{"field":"s","type":"nominal","scale":{"domain":["ALICE 0-5%","ALICE 5-10%","ALICE 10-20%","ALICE 20-30%","Model 0-5%","Model 5-10%","Model 10-20%","Model 20-30%"],"range":["black","black","black","black","transparent","transparent","transparent","transparent"]},"legend":null},
 "size":{"field":"s","type":"nominal","scale":{"domain":["ALICE 0-5%","ALICE 5-10%","ALICE 10-20%","ALICE 20-30%","Model 0-5%","Model 5-10%","Model 10-20%","Model 20-30%"],"range":[40,35,40,25,55,45,50,80]},"legend":null}}},
{"data":{"values":[{"t":"Un-squeezed"}]},"mark":{"type":"rect","fill":"white","stroke":"black","strokeWidth":1},"encoding":{
 "x":{"datum":1.01,"type":"quantitative","scale":{"domain":[-5.5,5.5],"nice":false,"zero":false},"axis":null},"x2":{"datum":5.01},
 "y":{"datum":1842,"type":"quantitative","scale":{"domain":[0,2000],"nice":false,"zero":false},"axis":null},"y2":{"datum":1979}}},
{"data":{"values":[{"t":"Un-squeezed"}]},"mark":{"type":"text","font":"Liberation Sans","fontWeight":"bold","fontSize":15,"align":"center","baseline":"middle","color":"black"},"encoding":{
 "x":{"datum":3.01,"type":"quantitative","scale":{"domain":[-5.5,5.5],"nice":false,"zero":false},"axis":null},
 "y":{"datum":1911,"type":"quantitative","scale":{"domain":[0,2000],"nice":false,"zero":false},"axis":null},
 "text":{"field":"t"}}}
]
}
]
}
